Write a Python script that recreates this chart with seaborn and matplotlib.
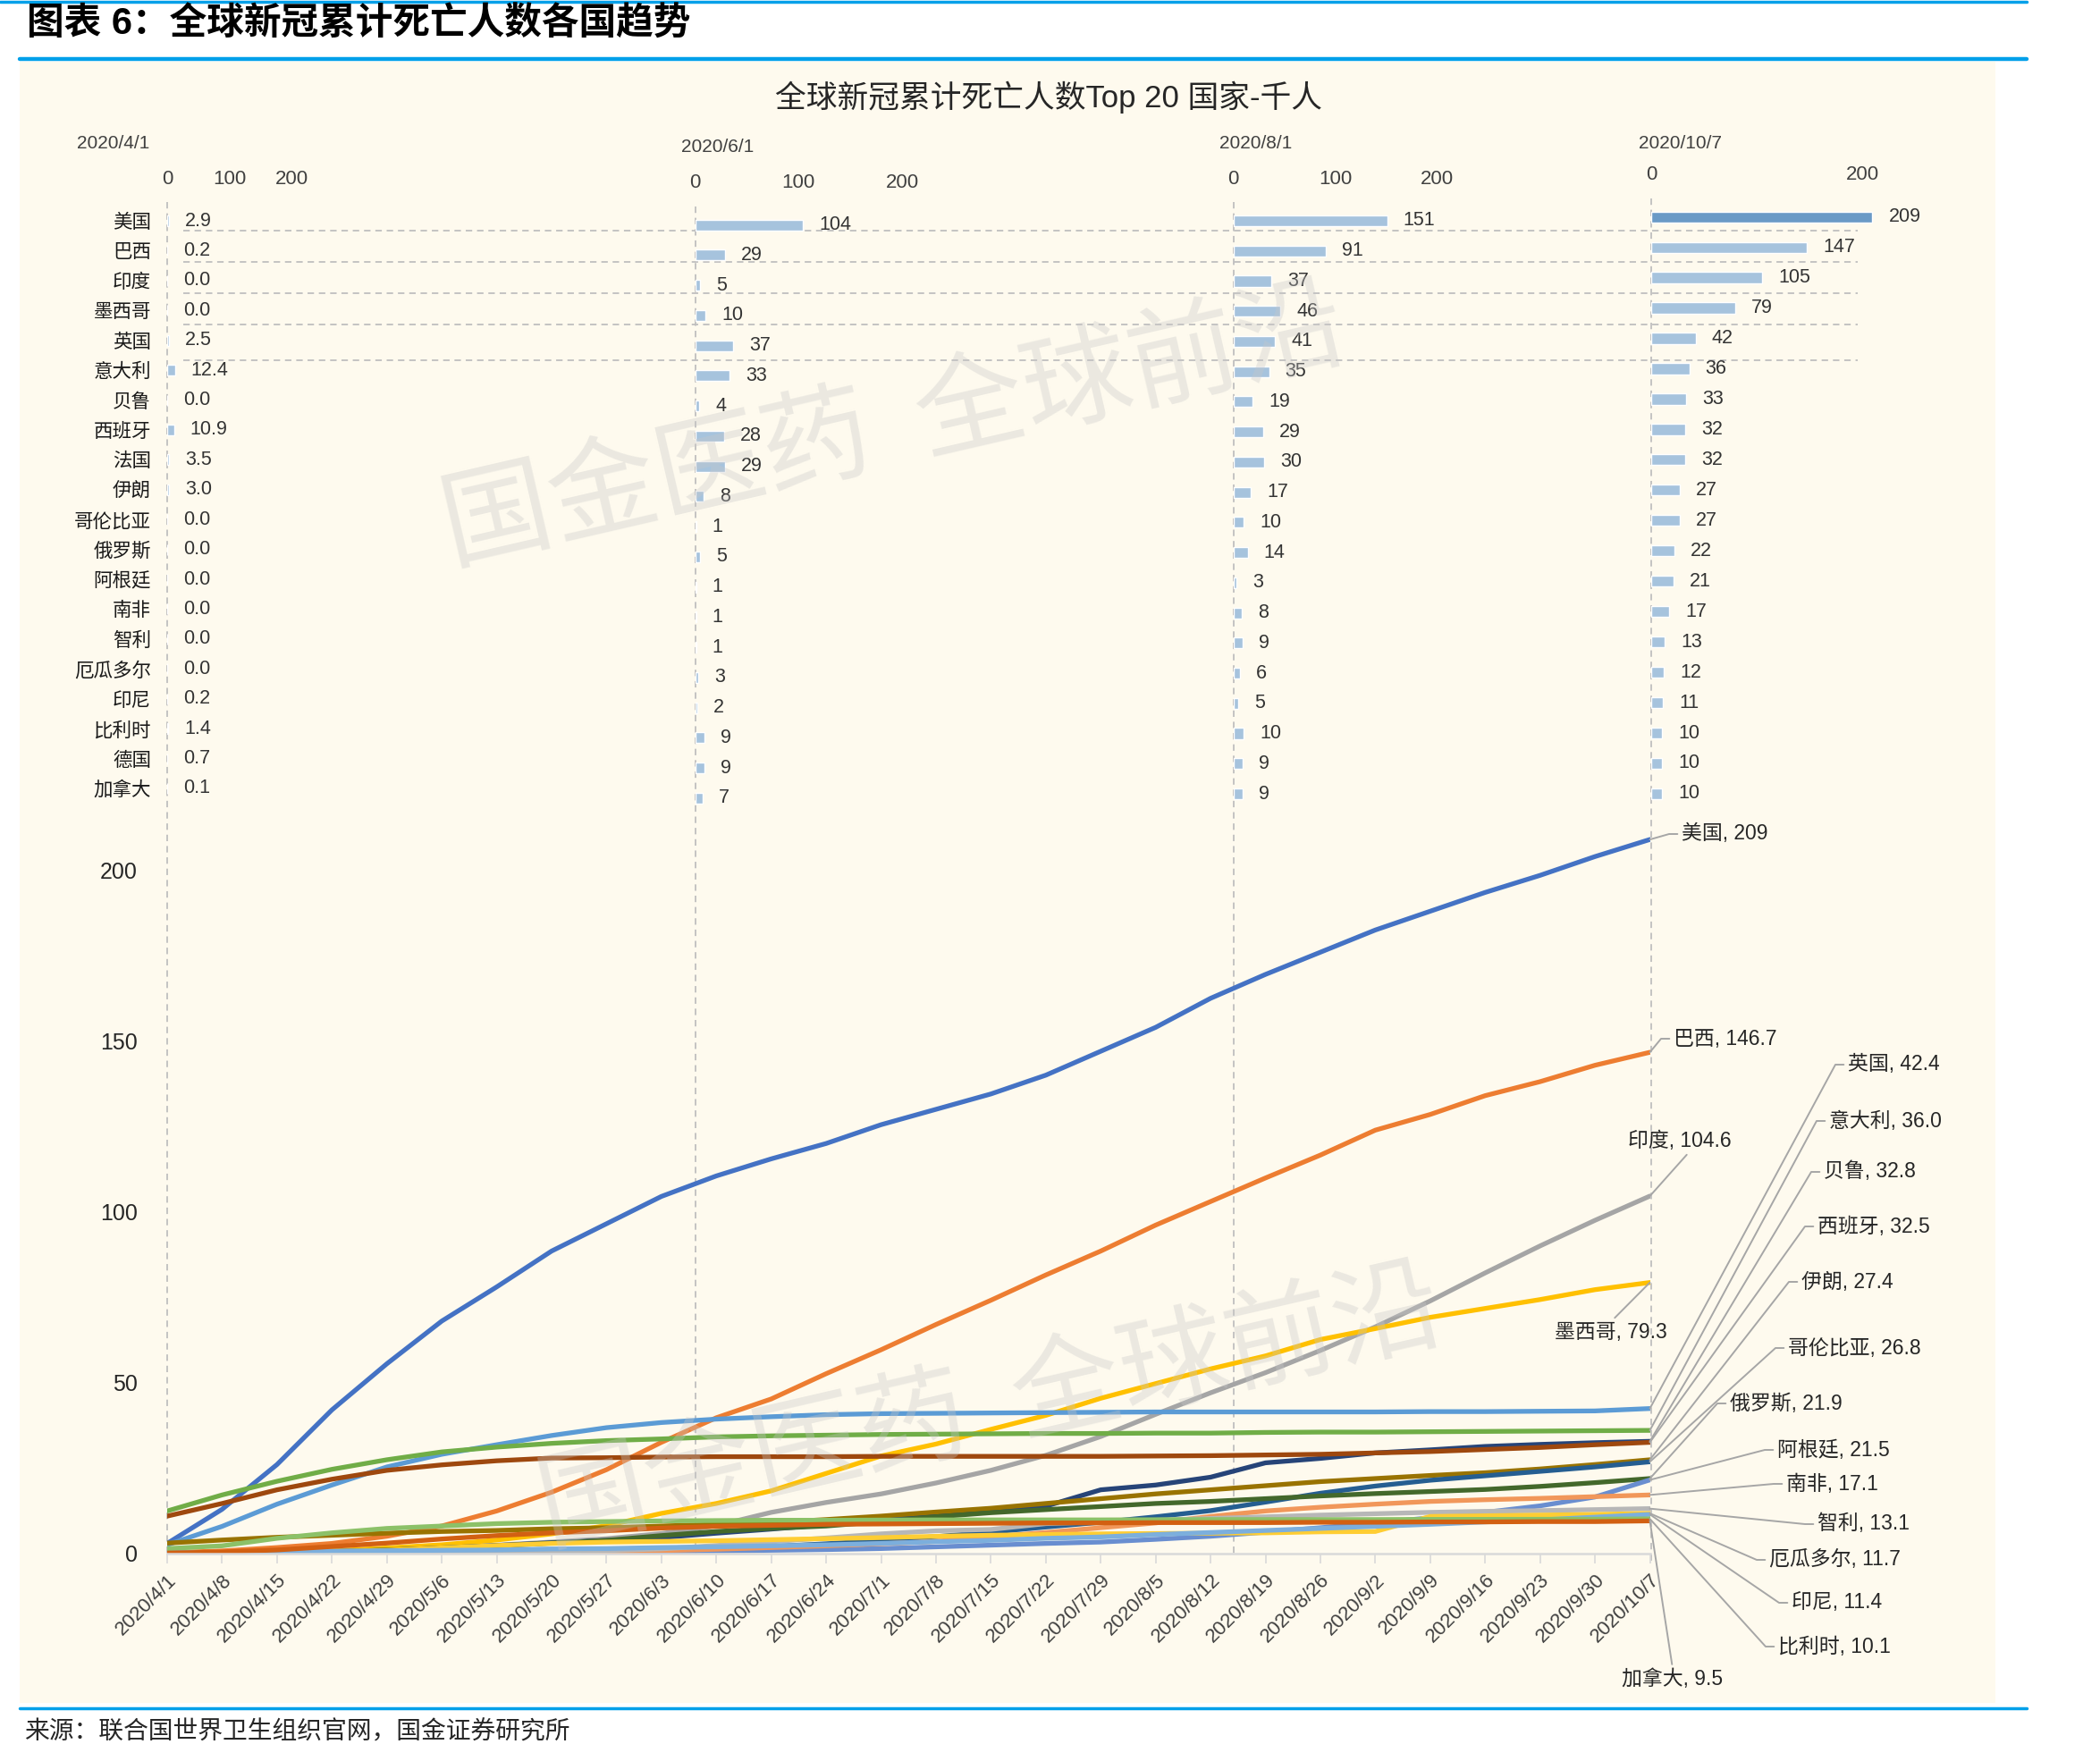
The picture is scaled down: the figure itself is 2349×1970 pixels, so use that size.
import matplotlib
matplotlib.use('Agg')
import matplotlib.pyplot as plt
import matplotlib.dates as mdates
from matplotlib.lines import Line2D
from matplotlib.patches import Rectangle
import pandas as pd
import seaborn as sns

# ---------------- 数据 (千人) ----------------
countries = ['美国', '巴西', '印度', '墨西哥', '英国', '意大利', '贝鲁', '西班牙', '法国', '伊朗',
             '哥伦比亚', '俄罗斯', '阿根廷', '南非', '智利', '厄瓜多尔', '印尼', '比利时', '德国', '加拿大']

panel_dates = ['2020/4/1', '2020/6/1', '2020/8/1', '2020/10/7']
bar_0401 = [2.9, 0.2, 0.0, 0.0, 2.5, 12.4, 0.0, 10.9, 3.5, 3.0, 0.0, 0.0, 0.0, 0.0, 0.0, 0.0, 0.2, 1.4, 0.7, 0.1]
bar_0601 = [104, 29, 5, 10, 37, 33, 4, 28, 29, 8, 1, 5, 1, 1, 1, 3, 2, 9, 9, 7]
bar_0801 = [151, 91, 37, 46, 41, 35, 19, 29, 30, 17, 10, 14, 3, 8, 9, 6, 5, 10, 9, 9]
bar_1007 = [209, 147, 105, 79, 42, 36, 33, 32, 32, 27, 27, 22, 21, 17, 13, 12, 11, 10, 10, 10]

# 每周读数 2020/4/1 ... 2020/10/7
week_dates = pd.date_range('2020-04-01', '2020-10-07', freq='7D')

line_countries = ['美国', '巴西', '印度', '墨西哥', '英国', '意大利', '贝鲁', '西班牙', '伊朗', '哥伦比亚',
                  '俄罗斯', '阿根廷', '南非', '智利', '厄瓜多尔', '印尼', '比利时', '加拿大']
us = [2.9, 12.9, 26.0, 42.0, 55.5, 68.0, 78.0, 88.5, 96.5, 104.5, 110.5, 115.5, 120.0, 125.5,
      130.0, 134.5, 140.0, 147.0, 154.0, 162.5, 169.5, 176.0, 182.5, 188.0, 193.5, 198.5, 204.0, 209.0]
brazil = [0.2, 0.7, 1.7, 2.9, 5.0, 8.0, 12.4, 17.9, 24.5, 32.5, 39.7, 45.2, 52.6, 59.6,
          67.0, 74.1, 81.5, 88.5, 96.1, 103.0, 109.9, 116.6, 123.9, 128.5, 134.0, 138.1, 142.9, 146.7]
india = [0.0, 0.15, 0.4, 0.65, 1.0, 1.7, 2.4, 3.3, 4.3, 5.8, 8.1, 12.0, 14.9, 17.4,
         20.6, 24.3, 28.7, 34.2, 40.7, 47.0, 52.9, 59.4, 66.3, 73.9, 82.1, 90.0, 97.5, 104.6]
mexico = [0.0, 0.1, 0.4, 0.7, 1.6, 2.5, 3.9, 5.7, 8.1, 11.7, 14.6, 18.3, 23.4, 28.5,
          32.0, 36.3, 40.4, 45.4, 49.7, 54.0, 57.8, 62.6, 65.8, 69.1, 71.7, 74.3, 77.2, 79.3]
uk = [2.5, 7.9, 14.4, 20.0, 25.3, 29.0, 31.8, 34.5, 36.8, 38.3, 39.3, 40.0, 40.6, 40.9,
      41.0, 41.1, 41.2, 41.3, 41.4, 41.4, 41.4, 41.4, 41.4, 41.5, 41.5, 41.6, 41.7, 42.4]
italy = [12.4, 17.1, 21.1, 24.6, 27.4, 29.7, 31.1, 32.2, 33.0, 33.5, 34.1, 34.4, 34.6, 34.8,
         34.9, 35.0, 35.1, 35.1, 35.2, 35.2, 35.4, 35.5, 35.5, 35.6, 35.7, 35.8, 35.9, 36.0]
peru = [0.0, 0.1, 0.3, 0.5, 0.9, 1.6, 2.3, 3.1, 3.8, 4.6, 5.9, 7.1, 8.4, 9.7,
        11.1, 12.4, 13.8, 18.6, 20.0, 22.3, 26.5, 27.8, 29.4, 30.3, 31.3, 31.9, 32.4, 32.8]
spain = [10.9, 14.6, 18.6, 21.7, 24.3, 25.9, 27.1, 27.9, 28.0, 28.2, 28.3, 28.3, 28.3, 28.4,
         28.4, 28.4, 28.4, 28.4, 28.5, 28.6, 28.8, 29.0, 29.4, 29.8, 30.4, 31.0, 31.8, 32.5]
iran = [3.0, 3.9, 4.7, 5.3, 5.9, 6.4, 6.7, 7.2, 7.5, 8.0, 8.5, 9.0, 9.9, 10.9,
        12.1, 13.2, 14.6, 16.0, 17.4, 18.6, 19.8, 21.0, 21.9, 22.8, 23.6, 24.7, 26.0, 27.4]
colombia = [0.0, 0.05, 0.1, 0.2, 0.3, 0.4, 0.5, 0.6, 0.8, 1.1, 1.5, 2.0, 2.8, 3.8,
            4.9, 6.2, 7.7, 9.1, 10.7, 12.5, 15.0, 17.6, 19.7, 21.4, 22.7, 24.0, 25.3, 26.8]
russia = [0.0, 0.05, 0.15, 0.5, 1.0, 1.5, 2.2, 3.0, 3.8, 5.2, 6.4, 7.3, 8.0, 9.3,
          10.7, 11.9, 12.8, 13.7, 14.6, 15.2, 16.0, 16.8, 17.5, 18.1, 18.7, 19.6, 20.7, 21.9]
argentina = [0.0, 0.05, 0.1, 0.15, 0.2, 0.3, 0.35, 0.4, 0.5, 0.6, 0.7, 0.9, 1.1, 1.4,
             1.9, 2.4, 2.9, 3.3, 4.1, 5.0, 6.2, 7.5, 8.9, 10.4, 12.0, 13.9, 16.5, 21.5]
south_africa = [0.0, 0.0, 0.03, 0.06, 0.1, 0.12, 0.2, 0.35, 0.5, 0.8, 1.2, 1.7, 2.2, 2.8,
                3.5, 4.8, 6.1, 7.5, 8.9, 10.8, 12.4, 13.5, 14.4, 15.2, 15.7, 16.1, 16.6, 17.1]
chile = [0.0, 0.01, 0.1, 0.15, 0.2, 0.25, 0.35, 0.5, 0.8, 1.3, 2.3, 3.4, 4.5, 5.7,
         6.6, 7.0, 8.7, 9.2, 9.7, 10.2, 10.7, 11.2, 11.6, 12.0, 12.3, 12.5, 12.8, 13.1]
ecuador = [0.0, 0.2, 0.4, 0.5, 0.9, 1.6, 2.3, 2.9, 3.3, 3.5, 3.7, 4.0, 4.3, 4.6,
           5.0, 5.3, 5.5, 5.7, 5.8, 5.9, 6.0, 6.3, 6.4, 10.8, 11.0, 11.2, 11.4, 11.7]
indonesia = [0.2, 0.24, 0.47, 0.65, 0.77, 0.9, 1.0, 1.3, 1.4, 1.7, 1.9, 2.2, 2.5, 2.9,
             3.4, 3.8, 4.4, 4.8, 5.5, 6.1, 6.7, 7.3, 7.9, 8.5, 9.2, 9.8, 10.6, 11.4]
belgium = [1.4, 2.2, 4.4, 6.0, 7.3, 8.0, 8.7, 9.1, 9.3, 9.5, 9.6, 9.7, 9.7, 9.75,
           9.8, 9.8, 9.8, 9.8, 9.85, 9.9, 9.9, 9.9, 9.9, 9.95, 9.96, 9.98, 10.0, 10.1]
canada = [0.1, 0.4, 1.0, 2.0, 3.0, 4.2, 5.2, 6.0, 6.6, 7.4, 7.9, 8.2, 8.5, 8.6,
          8.7, 8.8, 8.9, 8.9, 9.0, 9.0, 9.0, 9.1, 9.1, 9.2, 9.2, 9.3, 9.3, 9.5]
line_values = [us, brazil, india, mexico, uk, italy, peru, spain, iran, colombia,
               russia, argentina, south_africa, chile, ecuador, indonesia, belgium, canada]
end_texts = ['209', '146.7', '104.6', '79.3', '42.4', '36.0', '32.8', '32.5', '27.4',
             '26.8', '21.9', '21.5', '17.1', '13.1', '11.7', '11.4', '10.1', '9.5']

line_colors = ['#4472C4', '#ED7D31', '#A5A5A5', '#FFC000', '#5B9BD5', '#70AD47', '#264478', '#9E480E',
               '#997300', '#255E91', '#43682B', '#698ED0', '#F1975A', '#B7B7B7', '#FFCD33', '#7CAFDD',
               '#8CC168', '#D26012']

# ---------------- 样式 ----------------
sns.set_style('white')
plt.rcParams['font.family'] = ['Liberation Sans', 'Noto Sans CJK SC']
plt.rcParams['axes.unicode_minus'] = False

W, H = 2349, 1970
fig = plt.figure(figsize=(W / 100, H / 100), dpi=100, facecolor='white')


def fx(x):
    return x / W


def fy(y):
    return 1 - y / H


BLUE = '#00A0E9'
GRID = '#BFBFBF'
TXT = '#404040'

# 背景与边框线
fig.add_artist(Rectangle((fx(22), fy(1905)), fx(2232 - 22), (1905 - 69) / H,
                         transform=fig.transFigure, facecolor='#FEFAEE', edgecolor='none', zorder=-10))
for y0, x0, x1, lw in [(2, 0, 2267, 2.5), (66, 22, 2267, 3.2), (1911, 22, 2267, 2.5)]:
    fig.add_artist(Line2D([fx(x0), fx(x1)], [fy(y0), fy(y0)], transform=fig.transFigure,
                          color=BLUE, lw=lw, zorder=-9))

fig.text(fx(30), fy(28), '图表 6：全球新冠累计死亡人数各国趋势', fontsize=30, fontweight='bold',
         ha='left', va='center', color='black')
fig.text(fx(1173), fy(109), '全球新冠累计死亡人数Top 20 国家-千人', fontsize=25,
         ha='center', va='center', color='#262626')
fig.text(fx(27), fy(1938), '来源：联合国世界卫生组织官网，国金证券研究所', fontsize=20,
         ha='left', va='center', color='#262626')

# ---------------- 折线图 ----------------
y0_px, y_top_px = 1737.7, 878.0
ax = fig.add_axes([fx(187), fy(y0_px), fx(1845.5 - 187), (y0_px - y_top_px) / H])
ax.set_facecolor('none')

df_line = pd.concat([pd.DataFrame({'date': week_dates, 'country': c, 'deaths': v})
                     for c, v in zip(line_countries, line_values)], ignore_index=True)
sns.lineplot(data=df_line, x='date', y='deaths', hue='country', hue_order=line_countries,
             palette=line_colors, linewidth=3.8, legend=False, ax=ax)
ax.set_xlim(week_dates[0], week_dates[-1])
ax.set_ylim(0, 225)
ax.set_xlabel('')
ax.set_ylabel('')
ax.set_xticks(week_dates)
ax.set_xticklabels([f'{d.year}/{d.month}/{d.day}' for d in week_dates], rotation=45,
                   ha='right', rotation_mode='anchor', fontsize=16, color='#404040')
ax.set_yticks([0, 50, 100, 150, 200])
ax.set_yticklabels(['0', '50', '100', '150', '200'], fontsize=18, color='#262626')
ax.tick_params(axis='x', bottom=True, length=8, width=1.2, color='#D9D9D9', pad=6, direction='out')
ax.tick_params(axis='y', left=False, length=0, pad=24)
for s in ['left', 'right', 'top']:
    ax.spines[s].set_visible(False)
ax.spines['bottom'].set_color('#D9D9D9')
ax.spines['bottom'].set_linewidth(1.8)

# 数据标签与引导线 (figure 像素位置)
label_layout = [
    (1881, 933, 'left'), (1872, 1162, 'left'), (1879, 1276, 'above'), (1802, 1490, 'below'),
    (2067, 1191, 'left'), (2046, 1254, 'left'), (2040, 1311, 'left'), (2033, 1372, 'left'),
    (2015, 1434, 'left'), (2000, 1508, 'left'), (1935, 1570, 'left'), (1988, 1622, 'left'),
    (1998, 1660, 'left'), (2033, 1705, 'left'), (1979, 1745, 'left'), (2004, 1793, 'left'),
    (1989, 1842, 'left'), (1871, 1878, 'below'),
]
x_end = mdates.date2num(week_dates[-1])
for name, vals, txt, (tx, ty, mode) in zip(line_countries, line_values, end_texts, label_layout):
    if mode == 'left':
        ha, rel, cs = 'left', (0, 0.5), 'arc,angleA=180,armA=14,angleB=0,armB=0,rad=0'
    elif mode == 'above':
        ha, rel, cs = 'center', (0.6, 0), 'arc3'
    else:
        ha, rel, cs = 'center', (0.5, 1), 'arc3'
    ax.annotate(f'{name}, {txt}', xy=(x_end, vals[-1]), xycoords='data',
                xytext=(tx, H - ty), textcoords='figure pixels', ha=ha, va='center',
                fontsize=16.5, color='#262626', annotation_clip=False,
                arrowprops=dict(arrowstyle='-', color='#A6A6A6', lw=1.4, shrinkA=1, shrinkB=0,
                                relpos=rel, connectionstyle=cs))

# ---------------- 四个日期条形图 ----------------
panels = [
    # values, zero x, top px, bottom px, px per 100, xmax, ticks, fmt, date pos
    (bar_0401, 187.0, 230.3, 898.7, 69.5, 300, [0, 100, 200], '{:.1f}', (127, 160)),
    (bar_0601, 777.5, 234.8, 909.7, 115.8, 300, [0, 100, 200], '{:.0f}', (803, 165)),
    (bar_0801, 1379.7, 230.1, 904.9, 113.8, 300, [0, 100, 200], '{:.0f}', (1405, 160)),
    (bar_1007, 1847.0, 225.7, 904.9, 118.4, 250, [0, 200], '{:.0f}', (1880, 160)),
]
for k, (vals, zx, top, bot, p100, xmax, ticks, fmt, dpos) in enumerate(panels):
    axp = fig.add_axes([fx(zx), fy(bot), p100 * xmax / 100 / W, (bot - top) / H])
    axp.set_facecolor('none')
    if k == 3:
        pal = ['#5B9BD5'] + ['#9DC3E6'] * (len(countries) - 1)
    else:
        pal = ['#9DC3E6'] * len(countries)
    sns.barplot(x=vals, y=countries, hue=countries, palette=pal, orient='h', width=0.36,
                dodge=False, legend=False, ax=axp)
    axp.set_xlim(0, xmax)
    axp.set_ylim(len(countries) - 0.5, -0.5)
    axp.set_xlabel('')
    axp.set_ylabel('')
    axp.xaxis.tick_top()
    axp.set_xticks(ticks)
    axp.set_xticklabels([str(t) for t in ticks], fontsize=16, color='#404040')
    axp.tick_params(axis='x', length=0, pad=14)
    if k == 0:
        axp.tick_params(axis='y', length=0, pad=13, labelsize=15.5, labelcolor='#1A1A1A')
    else:
        axp.tick_params(axis='y', left=False, labelleft=False)
    for s in axp.spines.values():
        s.set_visible(False)
    for i, v in enumerate(vals):
        axp.annotate(fmt.format(v), xy=(v, i), xytext=(13, 0), textcoords='offset points',
                     ha='left', va='center', fontsize=15.5, color='#333333')
    fig.text(fx(dpos[0]), fy(dpos[1]), panel_dates[k], fontsize=15, color='#404040',
             ha='center', va='center')
    # 零线向下贯穿折线图
    fig.add_artist(Line2D([fx(zx), fx(zx)], [fy(top - 4), fy(y0_px + (8 if k == 3 else 0))],
                          transform=fig.transFigure, color=GRID, lw=1.3, ls=(0, (4, 3)), zorder=-5))

# 前五名的横向虚线
for yy in [258, 293, 328, 362.5, 403]:
    fig.add_artist(Line2D([fx(205), fx(2078)], [fy(yy), fy(yy)], transform=fig.transFigure,
                          color=GRID, lw=1.3, ls=(0, (4, 3)), zorder=-5))

# 水印
for cx, cy in [(1000, 479), (1108, 1577)]:
    fig.text(fx(cx), fy(cy), '国金医药  全球前沿', fontsize=88, color='#C8C8C8', alpha=0.35,
             rotation=13, ha='center', va='center', zorder=20,
             family=['Noto Sans CJK SC'], fontweight='light')

fig.savefig('out.png', dpi=100, facecolor='white')
